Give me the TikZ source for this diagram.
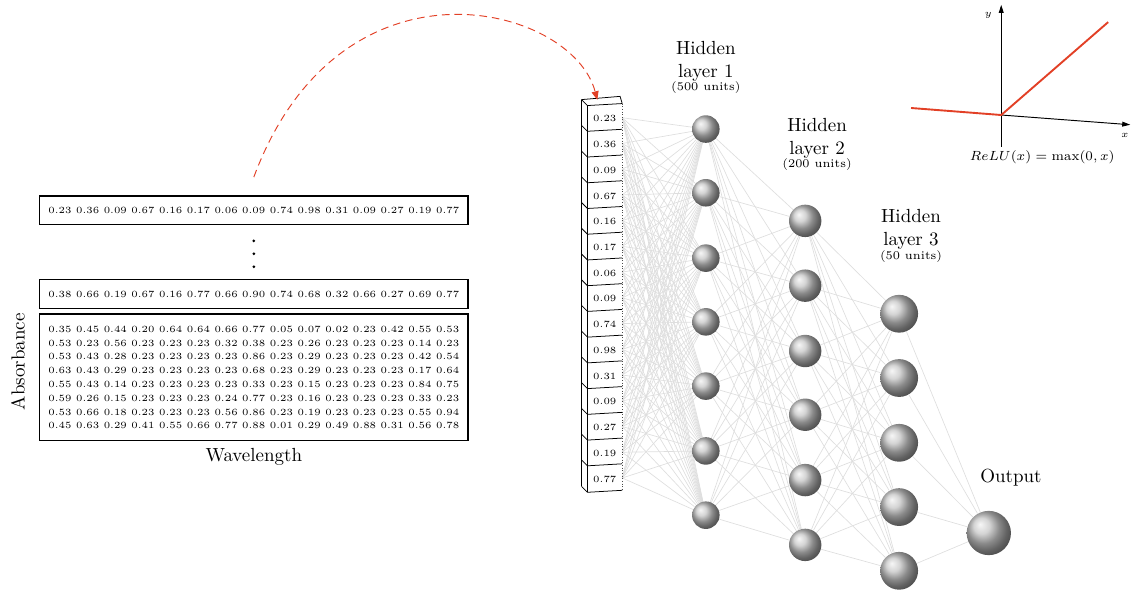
\documentclass[tikz,border=0pt]{standalone}
\usepackage{amsmath,amssymb}
\usepackage{tikz}
\usetikzlibrary{arrows.meta,backgrounds}
\definecolor{relured}{RGB}{226,64,38}
\definecolor{linkgray}{RGB}{222,222,222}
\tikzset{
  databox/.style={draw,semithick,minimum width=7.93cm,inner sep=0pt,font=\tiny},
  cell/.style={minimum width=0.63cm,minimum height=0.4765cm,inner sep=0pt,font=\tiny},
  neuron/.style={circle,shading=ball,ball color=gray!45,inner sep=0pt},
  link/.style={linkgray,line width=0.35pt},
  units/.style={font=\fontsize{6.2}{7}\selectfont},
  axisline/.style={-{Triangle[length=0.15cm,width=0.09cm]},line width=0.5pt},
  relu/.style={relured,line width=1pt},
}
\begin{document}
\begin{tikzpicture}
\useasboundingbox (0,0) rectangle (21.11,10.98);

\node[databox,minimum height=0.52cm] (row1) at (4.70,7.09) {0.23 0.36 0.09 0.67 0.16 0.17 0.06 0.09 0.74 0.98 0.31 0.09 0.27 0.19 0.77};
\fill (4.70,6.52) circle (0.028);
\fill (4.70,6.28) circle (0.028);
\fill (4.70,6.04) circle (0.028);
\node[databox,minimum height=0.54cm] (row2) at (4.70,5.53) {0.38 0.66 0.19 0.67 0.16 0.77 0.66 0.90 0.74 0.68 0.32 0.66 0.27 0.69 0.77};
\node[databox,minimum height=2.35cm,align=center] (block) at (4.70,3.99) {0.35 0.45 0.44 0.20 0.64 0.64 0.66 0.77 0.05 0.07 0.02 0.23 0.42 0.55 0.53\\[1.27pt]
0.53 0.23 0.56 0.23 0.23 0.23 0.32 0.38 0.23 0.26 0.23 0.23 0.23 0.14 0.23\\[1.27pt]
0.53 0.43 0.28 0.23 0.23 0.23 0.23 0.86 0.23 0.29 0.23 0.23 0.23 0.42 0.54\\[1.27pt]
0.63 0.43 0.29 0.23 0.23 0.23 0.23 0.68 0.23 0.29 0.23 0.23 0.23 0.17 0.64\\[1.27pt]
0.55 0.43 0.14 0.23 0.23 0.23 0.23 0.33 0.23 0.15 0.23 0.23 0.23 0.84 0.75\\[1.27pt]
0.59 0.26 0.15 0.23 0.23 0.23 0.24 0.77 0.23 0.16 0.23 0.23 0.23 0.33 0.23\\[1.27pt]
0.53 0.66 0.18 0.23 0.23 0.23 0.56 0.86 0.23 0.19 0.23 0.23 0.23 0.55 0.94\\[1.27pt]
0.45 0.63 0.29 0.41 0.55 0.66 0.77 0.88 0.01 0.29 0.49 0.88 0.31 0.56 0.78};
\node (wave) at (4.70,2.52) {Wavelength};
\node[rotate=90] (absorb) at (0.33,4.28) {Absorbance};

% input column
\foreach \v [count=\i] in {0.23,0.36,0.09,0.67,0.16,0.17,0.06,0.09,0.74,0.98,0.31,0.09,0.27,0.19,0.77}
  \node[cell] (in\i) at (11.20,{8.78-0.4765*(\i-1)}) {\v};
\foreach \i in {1,...,15}
  \draw ([shift={(-0.11,0.11)}]in\i.north west) -- (in\i.north west) -- ([yshift=0.037cm]in\i.north east);
\draw ([shift={(-0.11,0.11)}]in15.south west) -- (in15.south west) -- ([yshift=0.037cm]in15.south east);
\draw (in1.north west) -- (in15.south west);
\draw ([shift={(-0.11,0.11)}]in1.north west) -- ([shift={(-0.11,0.11)}]in15.south west);
\draw ([shift={(-0.11,0.11)}]in1.north west) -- ([shift={(-0.04,0.17)}]in1.north east) -- ([yshift=0.037cm]in1.north east);
\draw[densely dotted,black!70] ([yshift=0.037cm]in1.north east) -- ([yshift=0.037cm]in15.south east);

% layers
\foreach \y [count=\j] in {8.59,7.41,6.20,5.02,3.83,2.63,1.44}
  \node[neuron,minimum size=0.51cm] (ha\j) at (13.07,\y) {};
\foreach \y [count=\j] in {6.89,5.69,4.48,3.30,2.09,0.89}
  \node[neuron,minimum size=0.60cm] (hb\j) at (14.91,\y) {};
\foreach \y [count=\j] in {5.17,3.98,2.78,1.59,0.41}
  \node[neuron,minimum size=0.70cm] (hc\j) at (16.65,\y) {};
\node[neuron,minimum size=0.82cm] (out) at (18.31,1.11) {};

\begin{scope}[on background layer]
\foreach \i in {1,...,15}
  \foreach \j in {1,...,7}
    \draw[link] ([yshift=0.02cm]in\i.east) -- (ha\j);
\foreach \i in {1,...,7}
  \foreach \j in {1,...,6}
    \draw[link] (ha\i) -- (hb\j);
\foreach \i in {1,...,6}
  \foreach \j in {1,...,5}
    \draw[link] (hb\i) -- (hc\j);
\foreach \i in {1,...,5}
  \draw[link] (hc\i) -- (out);
\end{scope}

\node[align=center] (lab1) at (13.07,9.85) {Hidden\\layer 1};
\node[units] (units1) at (13.07,9.35) {(500 units)};
\node[align=center] (lab2) at (15.13,8.42) {Hidden\\layer 2};
\node[units] (units2) at (15.13,7.93) {(200 units)};
\node[align=center] (lab3) at (16.87,6.73) {Hidden\\layer 3};
\node[units] (units3) at (16.87,6.22) {(50 units)};
\node (outlab) at (18.72,2.13) {Output};

% arc from data to input
\coordinate (src) at ([yshift=0.34cm]row1.north);
\coordinate (dst) at (11.06,9.13);
\draw[relured,dash pattern=on 4pt off 2.6pt,line width=0.5pt,-{Triangle[length=0.16cm,width=0.13cm]}] (src) .. controls (6.3,12.0) and (10.6,10.9) .. (dst);

% relu
\coordinate (orig) at (18.54,8.85);
\coordinate (ybot) at (18.54,8.26);
\coordinate (ytop) at (18.54,10.89);
\coordinate (xend) at (20.93,8.67);
\coordinate (rleft) at (16.87,8.98);
\coordinate (rright) at (20.52,10.57);
\draw[axisline] (ybot) -- (ytop);
\draw[axisline] (orig) -- (xend);
\draw[relu] (rleft) -- (orig) -- (rright);
\node[font=\tiny] (ylab) at (18.30,10.69) {$y$};
\node[font=\tiny] (xlab) at (20.83,8.48) {$x$};
\node[font=\scriptsize] (relucap) at (19.30,8.06) {$ReLU(x) = \max(0,x)$};
\end{tikzpicture}
\end{document}
